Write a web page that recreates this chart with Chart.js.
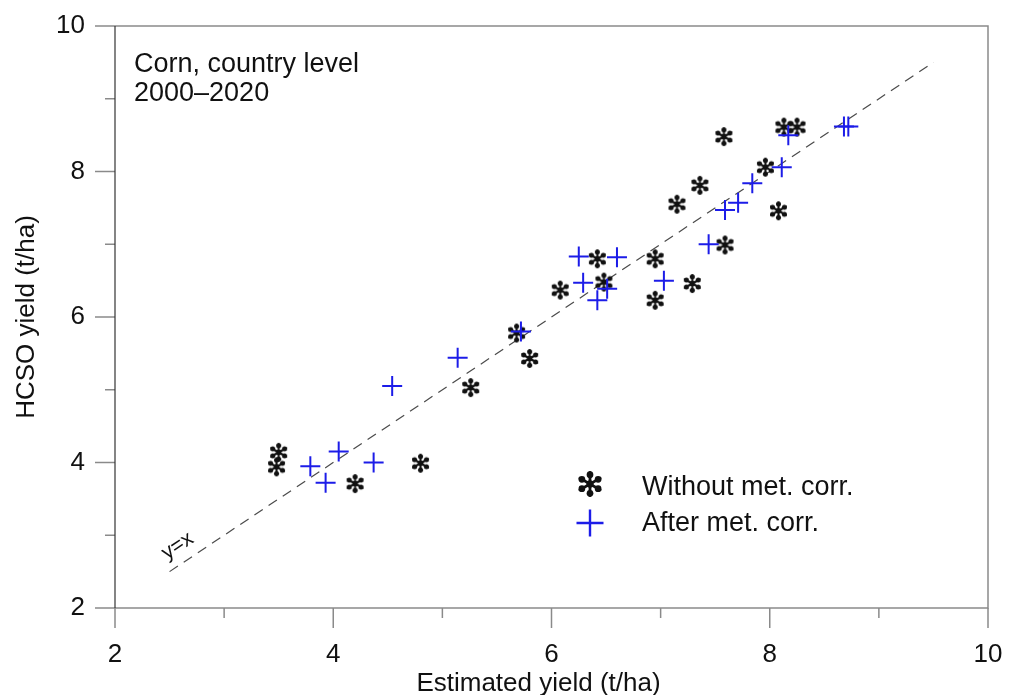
<!DOCTYPE html>
<html>
<head>
<meta charset="utf-8">
<script src="https://cdn.jsdelivr.net/npm/chart.js@4/dist/chart.umd.min.js"></script>
<style>
  html, body { margin: 0; padding: 0; background: #fff; }
  #wrap { width: 1015px; height: 695px; }
</style>
</head>
<body>
<div id="wrap"><canvas id="c" width="1015" height="695"></canvas></div>
<script>
// Estimated vs. HCSO corn yield (t/ha), country level, 2000–2020
const withoutX = [3.50, 3.48, 4.20, 4.80, 5.26, 5.80, 5.68, 6.08, 6.42, 6.48, 6.95, 6.95, 7.29, 7.15, 7.36, 7.59, 7.58, 7.96, 8.08, 8.13, 8.25];
const withoutY = [4.14, 3.94, 3.71, 3.99, 5.03, 5.43, 5.78, 6.37, 6.80, 6.48, 6.80, 6.23, 6.46, 7.55, 7.81, 6.99, 8.48, 8.06, 7.46, 8.61, 8.61];
const afterX   = [3.79, 3.93, 4.05, 4.37, 4.54, 5.14, 5.72, 6.25, 6.29, 6.42, 6.51, 6.60, 7.03, 7.44, 7.59, 7.71, 7.84, 8.11, 8.17, 8.68, 8.72];
const afterY   = [3.95, 3.72, 4.15, 4.00, 5.05, 5.44, 5.80, 6.83, 6.47, 6.23, 6.39, 6.82, 6.50, 7.00, 7.47, 7.57, 7.84, 8.06, 8.50, 8.62, 8.62];

// 1:1 reference line end points
const refLine = [2.5, 9.5];

// axis ranges and labelled ticks
const xRange = [2, 10];
const yRange = [2, 10];
const xTickLabels = [2, 4, 6, 8, 10];
const yTickLabels = [2, 4, 6, 8, 10];

const seriesNames = ['Without met. corr.', 'After met. corr.'];
const noteLines = ['Corn, country level', '2000\u20132020'];
const xTitle = 'Estimated yield (t/ha)';
const yTitle = 'HCSO yield (t/ha)';

const FONT = '"Liberation Sans", Arial, Helvetica, sans-serif';
const BLUE = 'rgb(28,28,232)';
const INK = '#111';

// six-armed bold asterisk marker with teardrop arms
function makeAsterisk(size, color) {
  const cv = document.createElement('canvas');
  cv.width = size; cv.height = size;
  const g = cv.getContext('2d');
  const c = size / 2, r = size / 2 - 1;
  g.strokeStyle = color; g.fillStyle = color;
  g.lineCap = 'round';
  g.lineWidth = size * 0.1;
  for (let k = 0; k < 6; k++) {
    const a = Math.PI / 6 + k * Math.PI / 3;
    const dx = Math.cos(a), dy = Math.sin(a);
    g.beginPath();
    g.moveTo(c, c);
    g.lineTo(c + dx * r * 0.9, c + dy * r * 0.9);
    g.stroke();
    g.beginPath();
    g.arc(c + dx * r * 0.72, c + dy * r * 0.72, size * 0.12, 0, Math.PI * 2);
    g.fill();
  }
  g.beginPath();
  g.arc(c, c, size * 0.13, 0, Math.PI * 2);
  g.fill();
  return cv;
}
const starMark = makeAsterisk(21, INK);
const starLegend = makeAsterisk(28, INK);

// frame, outward tick marks, note text, y=x label, x title and legend
const decorations = {
  id: 'decorations',
  beforeDatasetsDraw(chart) {
    const { ctx, chartArea: a, scales: { x, y } } = chart;
    ctx.save();
    ctx.lineWidth = 1.5;
    ctx.strokeStyle = '#8a8a8a';
    ctx.beginPath();
    ctx.moveTo(a.left, a.top); ctx.lineTo(a.right, a.top);
    ctx.lineTo(a.right, a.bottom); ctx.lineTo(a.left, a.bottom);
    ctx.stroke();
    x.ticks.forEach(t => {
      const px = x.getPixelForValue(t.value);
      const len = xTickLabels.includes(t.value) ? 20 : 10;
      ctx.beginPath(); ctx.moveTo(px, a.bottom); ctx.lineTo(px, a.bottom + len); ctx.stroke();
    });
    y.ticks.forEach(t => {
      const py = y.getPixelForValue(t.value);
      const len = yTickLabels.includes(t.value) ? 20 : 10;
      ctx.beginPath(); ctx.moveTo(a.left, py); ctx.lineTo(a.left - len, py); ctx.stroke();
    });
    ctx.strokeStyle = '#333';
    ctx.lineWidth = 1.2;
    ctx.beginPath(); ctx.moveTo(a.left, a.top); ctx.lineTo(a.left, a.bottom); ctx.stroke();
    ctx.restore();
  },
  afterDatasetsDraw(chart) {
    const { ctx, chartArea: a, scales: { x, y } } = chart;
    ctx.save();
    ctx.fillStyle = INK;
    ctx.textAlign = 'left';
    ctx.textBaseline = 'alphabetic';
    ctx.font = '27px ' + FONT;
    ctx.fillText(noteLines[0], a.left + 19, a.top + 46);
    ctx.fillText(noteLines[1], a.left + 19, a.top + 75);

    // x-axis title
    ctx.font = '26px ' + FONT;
    ctx.textAlign = 'center';
    ctx.fillText(xTitle, (a.left + a.right) / 2 - 13, 691);

    // y=x label along the reference line
    const x0 = x.getPixelForValue(refLine[0]), y0 = y.getPixelForValue(refLine[0]);
    const x1 = x.getPixelForValue(refLine[1]), y1 = y.getPixelForValue(refLine[1]);
    const ang = Math.atan2(y1 - y0, x1 - x0);
    const lv = 2.66;
    ctx.save();
    ctx.translate(x.getPixelForValue(lv), y.getPixelForValue(lv));
    ctx.rotate(ang);
    ctx.font = '21px ' + FONT;
    ctx.textAlign = 'center';
    ctx.fillText('y=x', 0, -11);
    ctx.restore();

    // legend
    const lx = a.left + 475;
    ctx.drawImage(starLegend, lx - 14, a.top + 458 - 14);
    ctx.strokeStyle = BLUE; ctx.lineWidth = 2.4;
    ctx.beginPath();
    ctx.moveTo(lx - 13.5, a.top + 497); ctx.lineTo(lx + 13.5, a.top + 497);
    ctx.moveTo(lx, a.top + 483.5); ctx.lineTo(lx, a.top + 510.5);
    ctx.stroke();
    ctx.font = '27px ' + FONT;
    ctx.textAlign = 'left';
    ctx.fillStyle = INK;
    ctx.fillText(seriesNames[0], lx + 52, a.top + 469);
    ctx.fillText(seriesNames[1], lx + 52, a.top + 505);
    ctx.restore();
  }
};

const pts = (xs, ys) => xs.map((v, i) => ({ x: v, y: ys[i] }));

new Chart(document.getElementById('c'), {
  type: 'scatter',
  data: {
    datasets: [
      {
        label: seriesNames[1],
        data: pts(afterX, afterY),
        pointStyle: 'cross',
        radius: 10,
        borderColor: BLUE,
        backgroundColor: BLUE,
        borderWidth: 2,
        order: 0
      },
      {
        label: seriesNames[0],
        data: pts(withoutX, withoutY),
        pointStyle: starMark,
        radius: 10,
        borderColor: INK,
        backgroundColor: INK,
        order: 1
      },
      {
        type: 'line',
        label: 'y=x',
        data: pts(refLine, refLine),
        borderColor: '#4a4a4a',
        borderWidth: 1.2,
        borderDash: [10, 7],
        pointRadius: 0,
        fill: false,
        order: 2
      }
    ]
  },
  options: {
    responsive: false,
    devicePixelRatio: 1,
    animation: false,
    layout: { padding: { left: 0, right: 27, top: 26, bottom: 0 } },
    plugins: { legend: { display: false }, tooltip: { enabled: false } },
    scales: {
      x: {
        type: 'linear', min: xRange[0], max: xRange[1],
        afterFit: s => { s.height = 87; s.paddingLeft = 0; s.paddingRight = 0; },
        border: { display: false },
        grid: { drawOnChartArea: false, drawTicks: false },
        ticks: {
          stepSize: 1, autoSkip: false, maxRotation: 0,
          padding: 31,
          color: INK,
          font: { family: FONT, size: 26 },
          callback: v => xTickLabels.includes(v) ? String(v) : ''
        },
        title: { display: false }
      },
      y: {
        type: 'linear', min: yRange[0], max: yRange[1],
        afterFit: s => { s.width = 115; s.paddingTop = 0; s.paddingBottom = 0; },
        border: { display: false },
        grid: { drawOnChartArea: false, drawTicks: false },
        ticks: {
          stepSize: 1, autoSkip: false,
          padding: 30,
          color: INK,
          font: { family: FONT, size: 26 },
          callback: v => yTickLabels.includes(v) ? String(v) : ''
        },
        title: {
          display: true, text: yTitle, color: INK,
          font: { family: FONT, size: 26, lineHeight: 1 },
          padding: { top: 14, bottom: 0 }
        }
      }
    }
  },
  plugins: [decorations]
});
</script>
</body>
</html>
